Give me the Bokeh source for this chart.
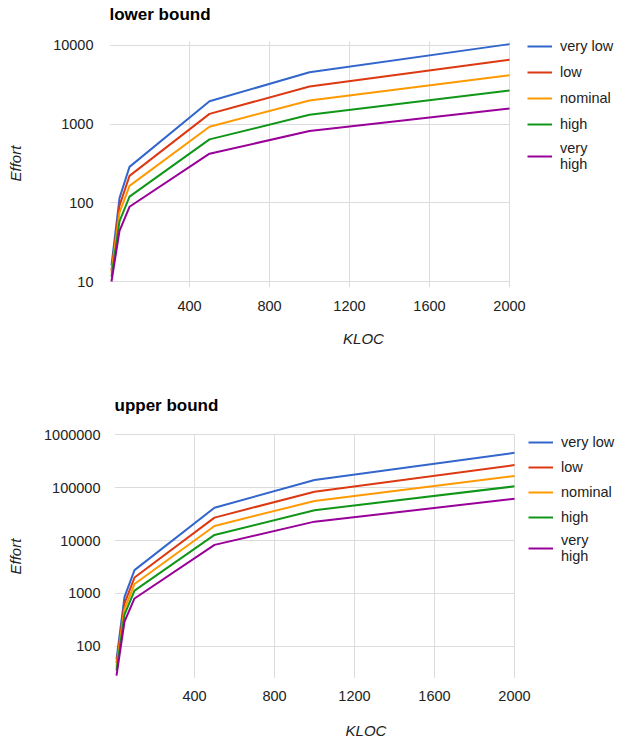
from bokeh.plotting import figure
from bokeh.models import Range1d, FixedTicker, NumeralTickFormatter, Legend, LegendItem, Title
from bokeh.layouts import column, row
from bokeh.embed import file_html
from bokeh.resources import INLINE

# ---- data ----
kloc = [10, 50, 100, 500, 1000, 2000]
levels = ["very low", "low", "nominal", "high", "very\nhigh"]
colors = ["#3366cc", "#dc3912", "#ff9900", "#109618", "#990099"]

lower_very_low = [16, 115, 286, 1950, 4550, 10380]
lower_low = [14, 92, 220, 1350, 3000, 6590]
lower_nominal = [13, 75, 164, 925, 1995, 4170]
lower_high = [11.5, 58, 120, 640, 1312, 2670]
lower_very_high = [10, 44, 89, 421, 815, 1580]

upper_very_low = [57, 860, 2760, 41800, 139700, 457000]
upper_low = [48, 650, 2000, 27200, 84100, 268000]
upper_nominal = [41, 508, 1510, 18900, 56100, 166000]
upper_high = [35, 397, 1130, 12800, 37500, 106000]
upper_very_high = [28, 295, 805, 8300, 22800, 61500]

x_ticks = [400, 800, 1200, 1600, 2000]
lower_y_ticks = [10, 100, 1000, 10000]
upper_y_ticks = [100, 1000, 10000, 100000, 1000000]

FONT = "Liberation Sans"
TEXT = "#222222"
GRID = "#dcdcdc"
WIDTH = 617
PLOT_W = 400          # pixel width of the 0..2000 data area
X_MAX = 2000


def make_chart(title, series, y_ticks, y_lo, y_vis_hi, px_per_decade, height,
               mb_left, mb_top, mb_bottom, tick_standoff, xlab_standoff,
               ytick_standoff, ylab_gap, ylab_offset, legend_loc, legend_spacing):
    frame_w = WIDTH - mb_left
    frame_h = height - mb_top - mb_bottom
    x_hi = X_MAX * frame_w / PLOT_W
    y_hi = y_lo * 10 ** (frame_h / px_per_decade)
    p = figure(width=WIDTH, height=height, x_range=Range1d(0, x_hi),
               y_range=Range1d(y_lo, y_hi), y_axis_type="log",
               output_backend="svg", toolbar_location=None,
               min_border_left=mb_left, min_border_right=0,
               min_border_top=mb_top, min_border_bottom=mb_bottom)
    p.outline_line_color = None
    p.title.text = title
    p.title.text_font = FONT
    p.title.text_font_size = "17px"
    p.title.text_font_style = "bold"
    p.title.text_color = "#000000"
    p.title.align = "left"
    p.title.standoff = 5

    p.xaxis.ticker = FixedTicker(ticks=x_ticks)
    p.xgrid.ticker = FixedTicker(ticks=x_ticks)
    p.yaxis.ticker = FixedTicker(ticks=y_ticks)
    p.ygrid.ticker = FixedTicker(ticks=y_ticks)
    p.yaxis.formatter = NumeralTickFormatter(format="0")
    p.xaxis.bounds = (0, X_MAX)
    p.yaxis.bounds = (y_lo, y_vis_hi)
    p.xgrid.cross_bounds = (y_lo, y_vis_hi)
    p.ygrid.cross_bounds = (0, X_MAX)
    for ax in (p.xaxis, p.yaxis):
        ax.axis_line_color = None
        ax.major_tick_line_color = None
        ax.minor_tick_line_color = None
        ax.major_tick_out = 0
        ax.major_tick_in = 0
        ax.major_label_text_font = FONT
        ax.major_label_text_font_size = "14.5px"
        ax.major_label_text_color = TEXT
        ax.axis_label_text_font = FONT
        ax.axis_label_text_font_size = "15px"
        ax.axis_label_text_font_style = "italic"
        ax.axis_label_text_color = TEXT
    p.xaxis.axis_label = "KLOC"
    p.xaxis.major_label_standoff = tick_standoff
    p.xaxis.axis_label_standoff = xlab_standoff
    p.yaxis.major_label_standoff = ytick_standoff

    # rotated y axis title "Effort", kept apart from the tick labels by a blank slot
    spacer = Title(text=".", text_font_size="1px", standoff=ylab_gap,
                   text_color="#ffffff")
    p.add_layout(spacer, "left")
    ylab = Title(text="Effort", align="left", offset=ylab_offset, standoff=0,
                 vertical_align="bottom", text_font=FONT, text_font_size="15px",
                 text_font_style="italic", text_color=TEXT)
    p.add_layout(ylab, "left")

    p.xgrid.grid_line_color = GRID
    p.ygrid.grid_line_color = GRID

    items = []
    for lvl, col, vals in zip(levels, colors, series):
        r = p.line(kloc, vals, line_color=col, line_width=2)
        items.append(LegendItem(label=lvl, renderers=[r]))
    legend = Legend(items=items, location=legend_loc,
                    label_text_font=FONT, label_text_font_size="14.5px",
                    label_text_color=TEXT, label_text_line_height=1.35,
                    glyph_width=25, glyph_height=20, label_height=20,
                    label_standoff=8, spacing=legend_spacing, padding=0, margin=0,
                    border_line_color=None, background_fill_alpha=0)
    p.add_layout(legend)
    return p


p1 = make_chart("lower bound",
                [lower_very_low, lower_low, lower_nominal, lower_high, lower_very_high],
                lower_y_ticks, 8.39, 11236, 79, 391, 109, 25, 104,
                13, 16, 16, 24, 106, (418, 115), 6)
p2 = make_chart("upper bound",
                [upper_very_low, upper_low, upper_nominal, upper_high, upper_very_high],
                upper_y_ticks, 24.7, 1000000, 53.1, 351, 114, 25, 64,
                12, 18, 14, 15, 104, (414, 114), 5)

layout = column(row(p1), row(p2), spacing=0)
open("out.html", "w").write(file_html(layout, INLINE))
